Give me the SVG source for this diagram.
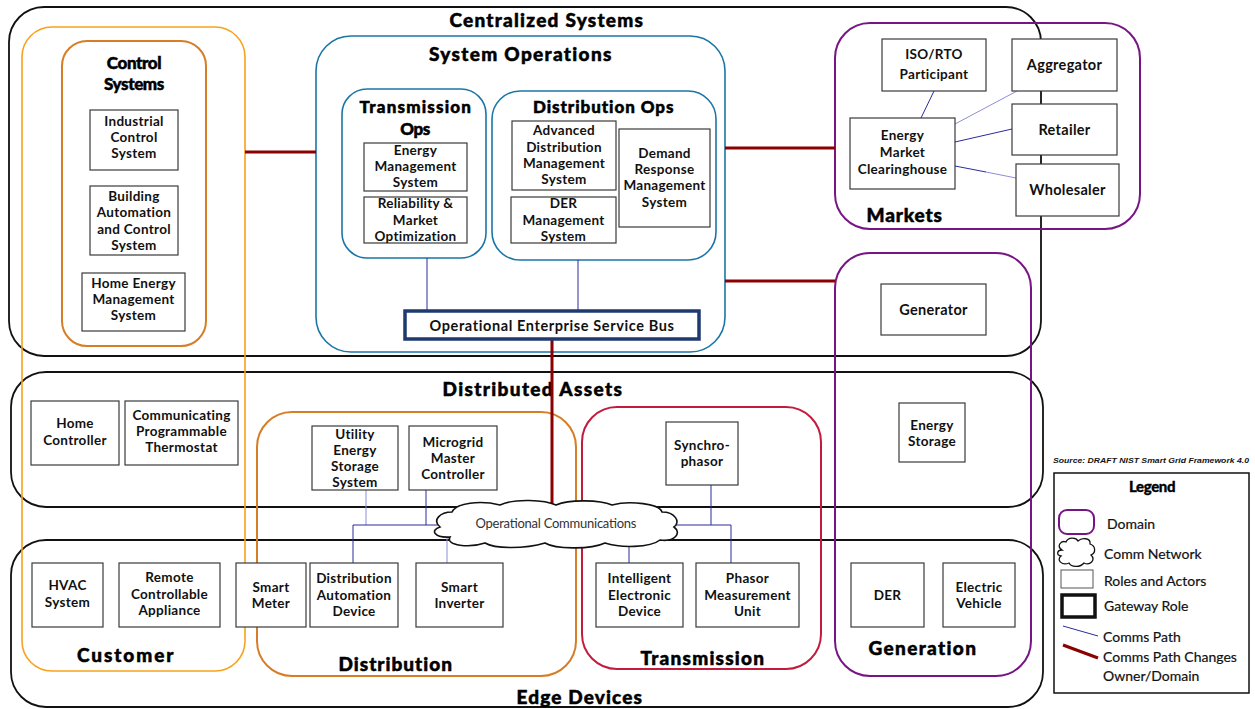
<svg xmlns="http://www.w3.org/2000/svg" width="1255" height="709" viewBox="0 0 1255 709">
<style>
.dom{fill:none;stroke-width:2}
.blk{stroke:#111;stroke-width:1.8}
.cust{stroke:#F7A21B;stroke-width:1.6}
.ora{stroke:#D67D26}
.blu{stroke:#1B76A6;stroke-width:1.6}
.pur{stroke:#781584}
.crim{stroke:#C21B3C}
.box{fill:#fff;stroke:#3a3a3a;stroke-width:1.2}
.gw{fill:#fff;stroke:#1F3A6E;stroke-width:3.5}
.lbl{font-family:Lato,"Liberation Sans",sans-serif;font-weight:bold;font-size:13.5px;fill:#111;text-anchor:middle;dominant-baseline:central;letter-spacing:0.3px}
.ttl{font-family:Lato,"Liberation Sans",sans-serif;font-weight:900;font-size:19px;fill:#000;stroke:#000;stroke-width:0.5px;text-anchor:middle;dominant-baseline:central;letter-spacing:-0.4px}
.st{font-size:17px}
.leg{font-family:Lato,"Liberation Sans",sans-serif;font-size:14px;fill:#111;stroke:#111;stroke-width:0.2px;dominant-baseline:central}
.red{stroke:#8B0000;stroke-width:3;fill:none}
.com{stroke:#2B2B9E;stroke-width:1;fill:none}
.coml{stroke:#8E8ED6;stroke-width:1;fill:none}
.cloud{fill:#fff;stroke:#111;stroke-width:1.6}
</style>

<!-- domain outlines -->
<g id="centralized-systems">
<rect class="dom blk" x="9" y="7" width="1032" height="349" rx="35"/>
<text class="ttl" x="546" y="19" textLength="193">Centralized Systems</text>
</g>
<g id="distributed-assets">
<rect class="dom blk" x="11" y="372" width="1032" height="135" rx="35"/>
<text class="ttl" x="532" y="388" textLength="179">Distributed  Assets</text>
</g>
<g id="edge-devices">
<rect class="dom blk" x="11" y="540" width="1032" height="167" rx="35"/>
<text class="ttl" x="579" y="696" textLength="125">Edge Devices</text>
</g>
<g id="customer">
<rect class="dom cust" x="22" y="27" width="223" height="644" rx="30"/>
<text class="ttl" x="125" y="654" textLength="96">Customer</text>
</g>
<g id="control-systems">
<rect class="dom ora" x="62" y="41" width="144" height="305" rx="25"/>
<text class="ttl st" x="134" y="62">Control</text>
<text class="ttl st" x="134" y="83">Systems</text>
</g>
<g id="system-operations">
<rect class="dom blu" x="316" y="36" width="409" height="316" rx="35"/>
<text class="ttl" x="520" y="53" textLength="182">System Operations</text>
</g>
<g id="transmission-ops">
<rect class="dom blu" x="342" y="89" width="144" height="169" rx="25"/>
<text class="ttl st" x="415" y="106" textLength="111">Transmission</text>
<text class="ttl st" x="415" y="128">Ops</text>
</g>
<g id="distribution-ops">
<rect class="dom blu" x="492" y="91" width="224" height="169" rx="28"/>
<text class="ttl st" x="603" y="106" textLength="140">Distribution Ops</text>
</g>
<g id="markets">
<rect class="dom pur" x="835" y="23" width="305" height="206" rx="35"/>
<text class="ttl" x="904" y="214" textLength="75">Markets</text>
</g>
<g id="generation">
<rect class="dom pur" x="835" y="253" width="196" height="423" rx="35"/>
<text class="ttl" x="922" y="647" textLength="107">Generation</text>
</g>
<g id="distribution">
<rect class="dom ora" x="257" y="412" width="319" height="264" rx="35"/>
<text class="ttl" x="395" y="663" textLength="113">Distribution</text>
</g>
<g id="transmission">
<rect class="dom crim" x="582" y="407" width="239" height="262" rx="35"/>
<text class="ttl" x="702" y="657" textLength="123">Transmission</text>
</g>

<!-- communication paths -->
<g id="connectors">
<path class="red" d="M245,152H316M725,148H835M725,281H835M552,339V508"/>
<path class="com" d="M427,258V311M578,260V311"/>
<path class="com" d="M921,118L934,91M955,142L1012,129M955,166L986,172"/>
<path class="coml" d="M955,124L1017,91M986,172L1016,178"/>
<path class="coml" d="M366,490V525M447,530V563"/>
<path class="com" d="M426,490V525M440,525H353V563"/>
<path class="com" d="M711,485V525M672,525H731V563M629,545V563"/>
</g>

<!-- operational communications network -->
<g id="operational-communications">
<path class="cloud" d="M440,527C432,520 440,512 452,512C456,503 480,500 500,505C515,498 545,500 556,505C570,499 600,500 612,505C630,500 660,504 662,512C675,512 681,522 674,527C682,533 675,542 660,540C650,548 620,548 605,543C590,550 555,549 545,543C525,549 495,549 485,543C470,548 445,546 450,537C434,538 430,530 440,527Z"/>
<text x="556" y="523" style="font-family:Lato,'Liberation Sans',sans-serif;font-size:13px;fill:#333;text-anchor:middle;dominant-baseline:central" textLength="161">Operational Communications</text>
</g>

<!-- roles and actors -->
<g id="industrial-control-system"><rect class="box" x="90" y="110" width="88" height="60"/>
<text class="lbl" x="134" y="121">Industrial</text><text class="lbl" x="134" y="137">Control</text><text class="lbl" x="134" y="153">System</text></g>
<g id="building-automation"><rect class="box" x="90" y="186" width="88" height="69"/>
<text class="lbl" x="134" y="196">Building</text><text class="lbl" x="134" y="212">Automation</text><text class="lbl" x="134" y="229">and Control</text><text class="lbl" x="134" y="245">System</text></g>
<g id="home-energy-management"><rect class="box" x="82" y="273" width="103" height="58"/>
<text class="lbl" x="133.5" y="283">Home Energy</text><text class="lbl" x="133.5" y="299">Management</text><text class="lbl" x="133.5" y="315">System</text></g>

<g id="energy-management-system"><rect class="box" x="364" y="143" width="103" height="48"/>
<text class="lbl" x="415.5" y="150">Energy</text><text class="lbl" x="415.5" y="166">Management</text><text class="lbl" x="415.5" y="182">System</text></g>
<g id="reliability-market-optimization"><rect class="box" x="364" y="197" width="103" height="46"/>
<text class="lbl" x="415.5" y="203">Reliability &amp;</text><text class="lbl" x="415.5" y="220">Market</text><text class="lbl" x="415.5" y="236">Optimization</text></g>
<g id="adms"><rect class="box" x="512" y="121" width="104" height="69"/>
<text class="lbl" x="564" y="130">Advanced</text><text class="lbl" x="564" y="147">Distribution</text><text class="lbl" x="564" y="163">Management</text><text class="lbl" x="564" y="179">System</text></g>
<g id="der-management-system"><rect class="box" x="511" y="197" width="105" height="46"/>
<text class="lbl" x="563.5" y="203">DER</text><text class="lbl" x="563.5" y="220">Management</text><text class="lbl" x="563.5" y="236">System</text></g>
<g id="demand-response-management"><rect class="box" x="619" y="129" width="91" height="98"/>
<text class="lbl" x="664.5" y="153">Demand</text><text class="lbl" x="664.5" y="169">Response</text><text class="lbl" x="664.5" y="185">Management</text><text class="lbl" x="664.5" y="202">System</text></g>
<g id="operational-esb"><rect class="gw" x="405" y="311" width="294" height="28"/>
<text class="lbl" x="552" y="325" style="font-size:14.5px;letter-spacing:0.6px">Operational Enterprise Service Bus</text></g>

<g id="iso-rto-participant"><rect class="box" x="882" y="39" width="104" height="52"/>
<text class="lbl" x="934" y="54">ISO/RTO</text><text class="lbl" x="934" y="74">Participant</text></g>
<g id="aggregator"><rect class="box" x="1012" y="39" width="105" height="52"/>
<text class="lbl" x="1064.5" y="64" style="font-size:14.5px">Aggregator</text></g>
<g id="energy-market-clearinghouse"><rect class="box" x="850" y="118" width="105" height="71"/>
<text class="lbl" x="902.5" y="135">Energy</text><text class="lbl" x="902.5" y="152">Market</text><text class="lbl" x="902.5" y="169">Clearinghouse</text></g>
<g id="retailer"><rect class="box" x="1012" y="104" width="105" height="51"/>
<text class="lbl" x="1064.5" y="129" style="font-size:14.5px">Retailer</text></g>
<g id="wholesaler"><rect class="box" x="1016" y="164" width="103" height="52"/>
<text class="lbl" x="1067.5" y="189" style="font-size:14.5px">Wholesaler</text></g>
<g id="generator"><rect class="box" x="881" y="284" width="105" height="51"/>
<text class="lbl" x="933.5" y="309" style="font-size:14.5px">Generator</text></g>

<g id="home-controller"><rect class="box" x="31" y="401" width="88" height="64"/>
<text class="lbl" x="75" y="423">Home</text><text class="lbl" x="75" y="440">Controller</text></g>
<g id="programmable-thermostat"><rect class="box" x="125" y="401" width="113" height="64"/>
<text class="lbl" x="181.5" y="415">Communicating</text><text class="lbl" x="181.5" y="431">Programmable</text><text class="lbl" x="181.5" y="447">Thermostat</text></g>
<g id="utility-energy-storage"><rect class="box" x="312" y="426" width="86" height="64"/>
<text class="lbl" x="355" y="434">Utility</text><text class="lbl" x="355" y="450">Energy</text><text class="lbl" x="355" y="466">Storage</text><text class="lbl" x="355" y="482">System</text></g>
<g id="microgrid-master-controller"><rect class="box" x="409" y="426" width="88" height="64"/>
<text class="lbl" x="453" y="442">Microgrid</text><text class="lbl" x="453" y="458">Master</text><text class="lbl" x="453" y="474">Controller</text></g>
<g id="synchrophasor"><rect class="box" x="666" y="422" width="72" height="63"/>
<text class="lbl" x="702" y="445">Synchro-</text><text class="lbl" x="702" y="461">phasor</text></g>
<g id="energy-storage"><rect class="box" x="899" y="403" width="66" height="59"/>
<text class="lbl" x="932" y="425">Energy</text><text class="lbl" x="932" y="441">Storage</text></g>

<g id="hvac-system"><rect class="box" x="32" y="563" width="71" height="64"/>
<text class="lbl" x="67.5" y="585">HVAC</text><text class="lbl" x="67.5" y="602">System</text></g>
<g id="remote-controllable-appliance"><rect class="box" x="119" y="563" width="101" height="64"/>
<text class="lbl" x="169.5" y="577">Remote</text><text class="lbl" x="169.5" y="594">Controllable</text><text class="lbl" x="169.5" y="610">Appliance</text></g>
<g id="smart-meter"><rect class="box" x="236" y="563" width="70" height="64"/>
<text class="lbl" x="271" y="587">Smart</text><text class="lbl" x="271" y="603">Meter</text></g>
<g id="distribution-automation-device"><rect class="box" x="310" y="563" width="88" height="64"/>
<text class="lbl" x="354" y="578">Distribution</text><text class="lbl" x="354" y="595">Automation</text><text class="lbl" x="354" y="611">Device</text></g>
<g id="smart-inverter"><rect class="box" x="416" y="563" width="87" height="64"/>
<text class="lbl" x="459.5" y="587">Smart</text><text class="lbl" x="459.5" y="603">Inverter</text></g>
<g id="intelligent-electronic-device"><rect class="box" x="596" y="563" width="87" height="64"/>
<text class="lbl" x="639.5" y="578">Intelligent</text><text class="lbl" x="639.5" y="595">Electronic</text><text class="lbl" x="639.5" y="611">Device</text></g>
<g id="phasor-measurement-unit"><rect class="box" x="696" y="563" width="103" height="64"/>
<text class="lbl" x="747.5" y="578">Phasor</text><text class="lbl" x="747.5" y="595">Measurement</text><text class="lbl" x="747.5" y="611">Unit</text></g>
<g id="der"><rect class="box" x="851" y="563" width="73" height="64"/>
<text class="lbl" x="887.5" y="595">DER</text></g>
<g id="electric-vehicle"><rect class="box" x="943" y="563" width="72" height="64"/>
<text class="lbl" x="979" y="587">Electric</text><text class="lbl" x="979" y="603">Vehicle</text></g>

<!-- source note and legend -->
<text x="1053" y="463" style="font-family:'Liberation Sans',sans-serif;font-style:italic;font-weight:bold;font-size:7.5px;fill:#111" textLength="196" lengthAdjust="spacingAndGlyphs">Source:  DRAFT NIST Smart Grid Framework 4.0</text>
<g id="legend">
<rect x="1054" y="473" width="195" height="220" fill="#fff" stroke="#111" stroke-width="1.5"/>
<text class="ttl" x="1152" y="486" style="font-size:15px;stroke-width:0.3px">Legend</text>
<rect x="1059" y="510" width="35" height="24" rx="8" fill="none" stroke="#781584" stroke-width="2"/>
<path class="cloud" style="stroke-width:1.3" d="M1062,550C1056,546 1061,540 1066,542C1068,537 1076,537 1078,541C1082,537 1091,538 1090,544C1096,546 1096,553 1091,555C1096,560 1090,566 1084,563C1080,568 1071,567 1069,563C1062,566 1056,560 1061,556C1056,555 1057,550 1062,550Z"/>
<rect x="1061" y="570" width="32" height="18" fill="#fff" stroke="#555" stroke-width="1"/>
<rect x="1062" y="595" width="33" height="22" fill="#fff" stroke="#111" stroke-width="3.5"/>
<path class="com" d="M1063,626L1098,636"/>
<path class="red" d="M1063,645L1098,658"/>
<text class="leg" x="1107" y="523">Domain</text>
<text class="leg" x="1104" y="553">Comm Network</text>
<text class="leg" x="1104" y="580">Roles and Actors</text>
<text class="leg" x="1104" y="605">Gateway Role</text>
<text class="leg" x="1103" y="636">Comms Path</text>
<text class="leg" x="1103" y="656">Comms Path Changes</text>
<text class="leg" x="1103" y="675">Owner/Domain</text>
</g>
</svg>
